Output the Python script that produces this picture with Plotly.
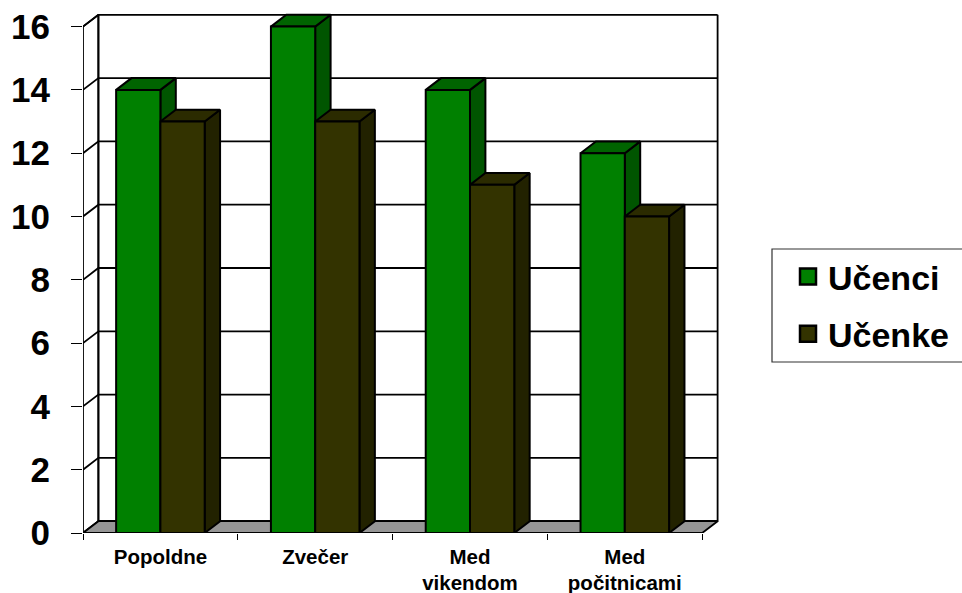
import plotly.graph_objects as go

categories = ["Popoldne", "Zvečer", "Med<br>vikendom", "Med<br>počitnicami"]
series_names = ["Učenci", "Učenke"]
ucenci = [14, 16, 14, 12]
ucenke = [13, 13, 11, 10]
y_ticks = [0, 2, 4, 6, 8, 10, 12, 14, 16]

W, H = 962, 593
X0, XSTEP = 83.0, 154.8
Y0, YSTEP = 533.0, 31.65
DXP, DYP = 15.4, 11.8
DX, DY = DXP / XSTEP, DYP / YSTEP
BAR_W = 0.286
TOP_PX, RIGHT_PX = 10.0, 730.0
X_MAX = (RIGHT_PX - X0) / XSTEP
Y_MAX = (Y0 - TOP_PX) / YSTEP
N = len(categories)

FRONT = ["#008000", "#333300"]
TOP = ["#006400", "#2b2b00"]
SIDE = ["#005500", "#222200"]
FLOOR = "#969696"
FONT = "Liberation Sans"

fig = go.Figure()


def poly(xs, ys, fill=None, width=2):
    fig.add_trace(go.Scatter(
        x=xs, y=ys, mode="lines", showlegend=False, hoverinfo="skip",
        fill="toself" if fill else None, fillcolor=fill,
        line=dict(color="black", width=width), cliponaxis=False,
    ))


# side wall and gridlines
for v in y_ticks:
    poly([0, DX, N + DX], [v, v + DY, v + DY], width=1.8)
# wall outline
poly([0, 0, DX, DX, N + DX, N + DX],
     [0, y_ticks[-1], y_ticks[-1] + DY, 0 + DY, DY, y_ticks[-1] + DY], width=1.8)
poly([DX, DX], [DY, y_ticks[-1] + DY], width=1.8)
# floor
poly([0, DX, N + DX, N, 0], [0, DY, DY, 0, 0], fill=FLOOR, width=1.8)

# bars
for i in range(N):
    c = i + 0.5
    for s, vals in enumerate([ucenci, ucenke]):
        l = c - BAR_W + s * BAR_W
        r = l + BAR_W
        v = vals[i]
        poly([r, r + DX, r + DX, r, r], [0, DY, v + DY, v, 0], fill=SIDE[s])
        poly([l, l + DX, r + DX, r, l], [v, v + DY, v + DY, v, v], fill=TOP[s])
        poly([l, l, r, r, l], [0, v, v, 0, 0], fill=FRONT[s])

# front axis line
poly([0, N], [0, 0], width=2)

# legend entries
for s, name in enumerate(series_names):
    fig.add_trace(go.Scatter(
        x=[None], y=[None], mode="markers", name=name, legendgroup=name,
        marker=dict(symbol="square", size=17, color=FRONT[s],
                    line=dict(color="black", width=2.5)),
    ))

fig.update_layout(
    width=W, height=H, autosize=False,
    paper_bgcolor="white", plot_bgcolor="white",
    margin=dict(l=0, r=0, t=0, b=0, autoexpand=False),
    showlegend=True,
    legend=dict(
        x=788 / W, xanchor="left", y=1 - 248 / H, yanchor="top",
        bgcolor="rgba(0,0,0,0)", borderwidth=0, tracegroupgap=10,
        font=dict(family=FONT, size=34, weight="bold", color="black"),
    ),
    xaxis=dict(
        domain=[X0 / W, RIGHT_PX / W], range=[0, X_MAX],
        tickmode="array", tickvals=[i + 0.5 for i in range(N)], ticktext=categories,
        tickangle=0, ticks="", showgrid=False, zeroline=False, showline=False,
        ticklabelstandoff=9,
        tickfont=dict(family=FONT, size=20.5, weight="bold", color="black"),
        minor=dict(tickmode="array", tickvals=list(range(N + 1)), ticks="outside",
                   ticklen=6, tickwidth=1.3, tickcolor="black", showgrid=False),
    ),
    yaxis=dict(
        domain=[1 - Y0 / H, 1 - TOP_PX / H], range=[0, Y_MAX],
        tickmode="array", tickvals=y_ticks, ticks="outside", ticklen=11,
        tickwidth=1.3, tickcolor="black", showgrid=False, zeroline=False,
        showline=False, ticklabelstandoff=14,
        tickfont=dict(family=FONT, size=35, weight="bold", color="black"),
    ),
    shapes=[dict(type="rect", xref="paper", yref="paper",
                 x0=772 / W, x1=1.02, y0=1 - 362 / H, y1=1 - 249 / H,
                 line=dict(color="#333333", width=1.2), layer="below")],
)

fig.write_html("out.html", config={"displayModeBar": False},
               post_script="document.body.style.margin='0';")
